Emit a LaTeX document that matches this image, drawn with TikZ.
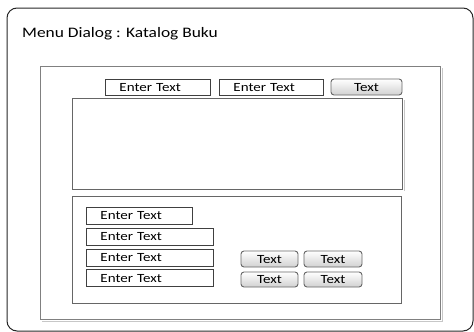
\documentclass[tikz,border=0pt]{standalone}
\usepackage{fontspec}
\setmainfont{Carlito}[FakeStretch=1.2]
\begin{document}
\begin{tikzpicture}[x=1pt,y=-1pt,
  frame/.style={draw=black!50, line width=0.9pt},
  shadowline/.style={draw=black!22, line width=1pt},
  field/.style={draw=black!75, line width=0.9pt, fill=white,
    inner xsep=14pt, inner ysep=0pt, align=left, text width=#1,
    text height=8.5pt, text depth=0pt, font=\fontsize{12.5}{14}\selectfont},
  button/.style={draw=black!60, line width=0.9pt, rounded corners=3pt,
    top color=white, bottom color=black!18, inner sep=0pt,
    text height=8.5pt, text depth=0pt, font=\fontsize{12.5}{14}\selectfont}]
  \useasboundingbox (0,0) rectangle (474,332);
  % dialog window
  \draw[black!85, line width=1pt, rounded corners=10pt] (7,8) rectangle (473,331);
  \node[anchor=west, inner sep=0pt, font=\fontsize{14.5}{16}\selectfont] (title) at (22,34) {Menu Dialog : Katalog Buku};
  % main panel
  \draw[shadowline] (442,68) -- (442,321) -- (42,321);
  \draw[frame] (40,66) rectangle (440,319);
  % list area
  \draw[shadowline] (404,100) -- (404,191);
  \draw[frame, draw=black!60] (72,98) rectangle (402,189);
  % lower form area
  \draw[frame, draw=black!60] (72,196) rectangle (401,303);
  % top search row
  \node[field=77pt, minimum height=16pt, anchor=west] (f1) at (105,87) {Enter Text};
  \node[field=76pt, minimum height=16pt, anchor=west] (f2) at (219,87) {Enter Text};
  \node[button, minimum width=71pt, minimum height=16pt] (b0) at (366.5,87) {Text};
  % input fields
  \node[field=78pt, minimum height=17pt, anchor=west] (f3) at (86,215.5) {Enter Text};
  \node[field=99pt, minimum height=17pt, anchor=west] (f4) at (86,236.5) {Enter Text};
  \node[field=99pt, minimum height=17pt, anchor=west] (f5) at (86,257.5) {Enter Text};
  \node[field=99pt, minimum height=17pt, anchor=west] (f6) at (86,278) {Enter Text};
  % action buttons
  \node[button, minimum width=57pt, minimum height=16pt] (b1) at (269.5,259) {Text};
  \node[button, minimum width=58pt, minimum height=16pt] (b2) at (333,259) {Text};
  \node[button, minimum width=57pt, minimum height=15pt] (b3) at (269.5,279.5) {Text};
  \node[button, minimum width=58pt, minimum height=15pt] (b4) at (333,279.5) {Text};
\end{tikzpicture}
\end{document}
